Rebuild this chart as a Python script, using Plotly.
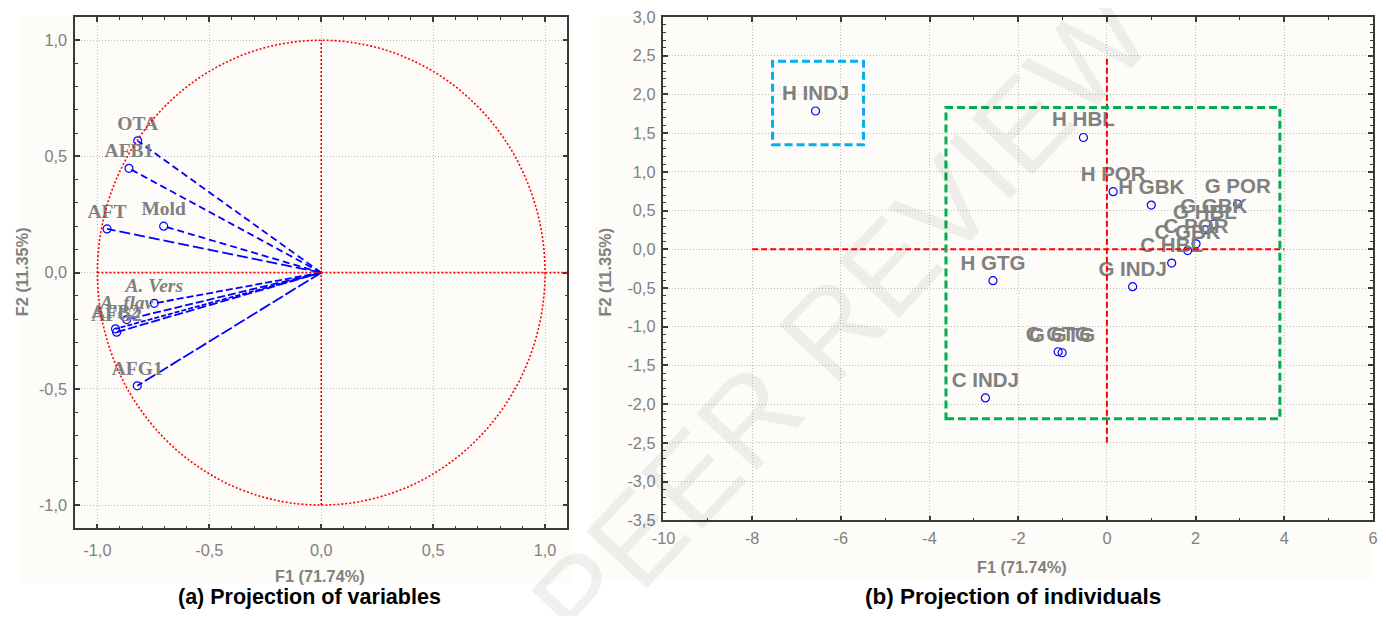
import plotly.graph_objects as go

# Figure size; the page wraps it in the default 8px body margin.
W, H = 1370, 608
# measured placement of the figure inside the photographed page
OFF_X, OFF_Y = 20.0, 15.0
SC_X, SC_Y = 1352 / 1370, 592 / 608

# ---------------- data: (a) projection of variables ----------------
var_names = ["OTA", "AFB1", "AFT", "Mold", "<i>A. Vers</i>", "<i>A. flav</i>", "AFB2", "AFG2", "AFG1"]
var_f1 = [-0.820, -0.859, -0.957, -0.704, -0.746, -0.869, -0.919, -0.914, -0.822]
var_f2 = [0.567, 0.449, 0.188, 0.200, -0.132, -0.202, -0.242, -0.256, -0.487]
var_dash = ["7px,4px", "7px,4px", "11px,4px", "7px,4px", "7px,3px", "8px,3px", "5px,2px", "9px,3px", "12px,3px"]

# ---------------- data: (b) projection of individuals ----------------
ind_names = ["H INDJ", "H HBL", "H POR", "H GBK", "G POR", "G GBK", "G HBL", "C POR",
             "C GBK", "C HBL", "G INDJ", "H GTG", "C GTG", "G GTG", "C INDJ"]
ind_f1 = [-6.57, -0.53, 0.14, 1.00, 2.95, 2.41, 2.21, 2.01, 1.82, 1.46, 0.58, -2.57, -1.10, -1.01, -2.74]
ind_f2 = [1.786, 1.444, 0.744, 0.571, 0.585, 0.328, 0.251, 0.071, -0.016, -0.178, -0.483, -0.405, -1.323, -1.336, -1.920]

# group boxes (F1 min, F1 max, F2 min, F2 max)
box_blue = [-7.54, -5.49, 1.35, 2.43]
box_green = [-3.63, 3.90, -2.19, 1.83]
# reference cross in (b)
cross_h = [-8.0, 4.0]
cross_v = [-2.5, 2.5]

# tick labels
a_ticks = [-1.0, -0.5, 0.0, 0.5, 1.0]
a_ticktext = ["-1,0", "-0,5", "0,0", "0,5", "1,0"]
b_xticks = [-10, -8, -6, -4, -2, 0, 2, 4, 6]
b_xticktext = ["-10", "-8", "-6", "-4", "-2", "0", "2", "4", "6"]
b_yticks = [3.0, 2.5, 2.0, 1.5, 1.0, 0.5, 0.0, -0.5, -1.0, -1.5, -2.0, -2.5, -3.0, -3.5]
b_yticktext = ["3,0", "2,5", "2,0", "1,5", "1,0", "0,5", "0,0", "-0,5", "-1,0", "-1,5", "-2,0", "-2,5", "-3,0", "-3,5"]

CREAM = "#fdfcf8"
GRAY = "#808080"
FRAME = "#3a3a3a"
BLUE = "#0000ff"
RED = "#ff0000"
SANS = "Liberation Sans, Arial, sans-serif"
SERIF = "Liberation Serif, Times New Roman, serif"


def px_x(v):
    """screen pixel (x) -> paper fraction"""
    return min(1.0, max(0.0, (v - OFF_X) / SC_X / W))


def px_y(v):
    """screen pixel (y, from top) -> paper fraction"""
    return min(1.0, max(0.0, 1 - (v - OFF_Y) / SC_Y / H))


fig = go.Figure()

# lines from origin to each variable
for n, x, y, d in zip(var_names, var_f1, var_f2, var_dash):
    fig.add_trace(go.Scatter(x=[0, x], y=[0, y], mode="lines",
                             line=dict(color=BLUE, width=1.8, dash=d),
                             xaxis="x", yaxis="y", showlegend=False, hoverinfo="skip"))
fig.add_trace(go.Scatter(
    x=var_f1, y=var_f2, mode="markers+text", text=var_names, textposition="top center",
    textfont=dict(family=SERIF, size=19.5, color=GRAY, weight="bold"),
    marker=dict(symbol="circle-open", size=8, color=BLUE, line=dict(width=1.2, color=BLUE)),
    xaxis="x", yaxis="y", showlegend=False))

fig.add_trace(go.Scatter(
    x=ind_f1, y=ind_f2, mode="markers+text", text=ind_names, textposition="top center",
    textfont=dict(family=SANS, size=20.5, color=GRAY, weight="bold"),
    marker=dict(symbol="circle-open", size=8, color=BLUE, line=dict(width=1.2, color=BLUE)),
    xaxis="x2", yaxis="y2", showlegend=False))

shapes = [
    # cream panels
    dict(type="rect", xref="paper", yref="paper", x0=px_x(8), x1=px_x(572), y0=px_y(584), y1=px_y(7),
         fillcolor=CREAM, line=dict(width=0), layer="below"),
    dict(type="rect", xref="paper", yref="paper", x0=px_x(593), x1=1.0, y0=px_y(580), y1=px_y(5),
         fillcolor=CREAM, line=dict(width=0), layer="below"),
    # unit circle and axes in (a)
    dict(type="circle", xref="x", yref="y", x0=-1, x1=1, y0=-1, y1=1,
         line=dict(color=RED, width=1.6, dash="2px,2px")),
    dict(type="line", xref="x", yref="y", x0=-1, x1=1.1, y0=0, y1=0,
         line=dict(color=RED, width=1.6, dash="2px,2px")),
    dict(type="line", xref="x", yref="y", x0=0, x1=0, y0=-1, y1=1,
         line=dict(color=RED, width=1.6, dash="2px,2px")),
    # cross in (b)
    dict(type="line", xref="x2", yref="y2", x0=cross_h[0], x1=cross_h[1], y0=0, y1=0,
         line=dict(color=RED, width=2, dash="6px,3px")),
    dict(type="line", xref="x2", yref="y2", x0=0, x1=0, y0=cross_v[0], y1=cross_v[1],
         line=dict(color=RED, width=2, dash="6px,3px")),
    # group boxes
    dict(type="rect", xref="x2", yref="y2", x0=box_blue[0], x1=box_blue[1], y0=box_blue[2], y1=box_blue[3],
         line=dict(color="#00b0f0", width=3, dash="8px,4px")),
    dict(type="rect", xref="x2", yref="y2", x0=box_green[0], x1=box_green[1], y0=box_green[2], y1=box_green[3],
         line=dict(color="#00b050", width=3, dash="8px,4px")),
]

bold_gray = dict(family=SANS, size=16.3, color=GRAY, weight="bold")


def note(text, x, y, font, angle=0):
    return dict(text=text, x=px_x(x), y=px_y(y), xref="paper", yref="paper", showarrow=False,
                xanchor="center", yanchor="middle", textangle=angle, font=font)


annotations = [
    note("F1 (71.74%)", 320, 576, bold_gray),
    note("F1 (71.74%)", 1021, 567, bold_gray),
    note("F2 (11.35%)", 22, 271, bold_gray, -90),
    note("F2 (11.35%)", 605, 271, bold_gray, -90),
    note("(a) Projection of variables", 309, 597,
         dict(family=SANS, size=21.5, color="#000000", weight="bold")),
    note("(b) Projection of individuals", 1012, 596,
         dict(family=SANS, size=22.5, color="#000000", weight="bold")),
    note("PEER REVIEW", 840, 318,
         dict(family=SANS, size=121, color="rgba(0,0,0,0.06)"), -47),
]


def axis(domain, rng, tickvals, ticktext, minor_dtick, anchor, standoff):
    return dict(
        domain=domain, range=rng, anchor=anchor, autorange=False,
        tickmode="array", tickvals=tickvals, ticktext=ticktext,
        tickfont=dict(family=SANS, size=16.3, color=GRAY),
        ticks="inside", ticklen=5, tickwidth=1.5, tickcolor=FRAME, ticklabelstandoff=standoff,
        ticklabeloverflow="allow",
        showline=True, linecolor=FRAME, linewidth=1.5, mirror="ticks",
        showgrid=True, gridcolor="#bdbdbd", griddash="1px,2px", gridwidth=1,
        zeroline=False,
        minor=dict(ticks="inside", ticklen=3, tickwidth=1, tickcolor=FRAME, dtick=minor_dtick,
                   tick0=0, showgrid=False),
    )


fig.update_layout(
    width=W, height=H, margin=dict(l=0, r=0, t=0, b=0),
    paper_bgcolor="white", plot_bgcolor=CREAM,
    xaxis=axis([px_x(75), px_x(567)], [-1.1, 1.1], a_ticks, a_ticktext, 0.1, "y", 6),
    yaxis=axis([px_y(528), px_y(13.5)], [-1.1, 1.1], a_ticks, a_ticktext, 0.1, "x", 3),
    xaxis2=axis([px_x(663), px_x(1378)], [-10, 6], b_xticks, b_xticktext, 1, "y2", 2),
    yaxis2=axis([px_y(520), px_y(15)], [-3.5, 3.0], b_yticks, b_yticktext, 0.1, "x2", 3),
    shapes=shapes, annotations=annotations,
)

fig.write_html("out.html", config={"displayModeBar": False})
